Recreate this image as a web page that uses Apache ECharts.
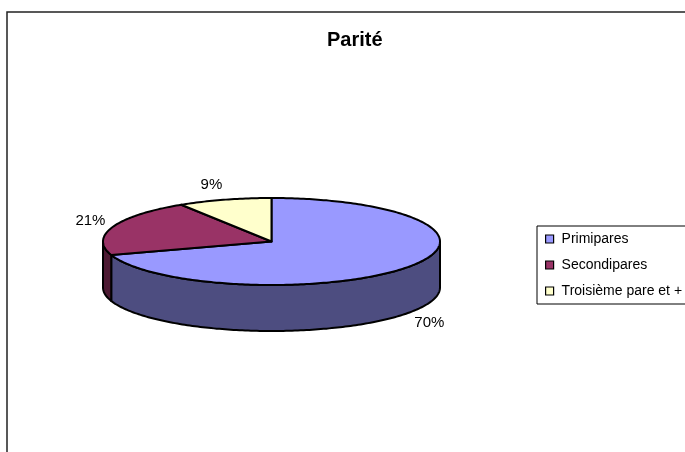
<!DOCTYPE html>
<html>
<head>
<meta charset="utf-8">
<script src="https://cdn.jsdelivr.net/npm/echarts@6/dist/echarts.min.js"></script>
<style>
  html, body { margin: 0; padding: 0; background: #fff; }
  #chart { width: 685px; height: 452px; }
</style>
</head>
<body>
<div id="chart"></div>
<script>
// data
const categories = ['Primipares', 'Secondipares', 'Troisième pare et +'];
const values = [70, 21, 9];
const topColors = ['#9999FF', '#993366', '#FFFFCC'];
const sideColors = ['#4D4D80', '#4D1A33', '#80806A'];

// pseudo-3D pie geometry (pixels)
const CX = 271.5, CY = 241.5, RX = 168.5, RY = 43.5, DEPTH = 46;
const FONT = 'Arial, "Liberation Sans", sans-serif';

const total = values.reduce((a, b) => a + b, 0);

function pt(deg, dy) {
    const r = deg * Math.PI / 180;
    return [CX + RX * Math.sin(r), CY - RY * Math.cos(r) + (dy || 0)];
}

function arc(a, b, dy) {
    const pts = [];
    const n = Math.max(2, Math.ceil(b - a));
    for (let k = 0; k <= n; k++) {
        pts.push(pt(a + (b - a) * k / n, dy));
    }
    return pts;
}

function renderSlice(params, api) {
    const i = params.seriesIndex;
    const before = values.slice(0, i).reduce((a, b) => a + b, 0);
    const a0 = before / total * 360;
    const a1 = (before + values[i]) / total * 360;
    const children = [];

    // front wall (only lower half of the ellipse is visible)
    const s = Math.max(a0, 90), e = Math.min(a1, 270);
    if (e > s) {
        const pts = arc(s, e, 0).concat(arc(s, e, DEPTH).reverse());
        children.push({
            type: 'polygon',
            shape: { points: pts },
            style: { fill: sideColors[i], stroke: '#000', lineWidth: 2, lineJoin: 'round' }
        });
    }

    // top face
    children.push({
        type: 'polygon',
        shape: { points: [[CX, CY]].concat(arc(a0, a1, 0)) },
        style: { fill: topColors[i], stroke: '#000', lineWidth: 2, lineJoin: 'round' }
    });

    // percentage label outside the slice
    const mid = (a0 + a1) / 2 * Math.PI / 180;
    const sn = Math.sin(mid), cs = Math.cos(mid);
    let lx = CX + (RX + 8) * sn;
    let ly = CY - (RY + 16) * cs;
    if (cs < 0) ly += DEPTH;
    const align = sn > 0.1 ? 'left' : (sn < -0.1 ? 'right' : 'center');
    children.push({
        type: 'text',
        style: {
            x: lx, y: ly,
            text: Math.round(values[i] / total * 100) + '%',
            align: align,
            verticalAlign: 'middle',
            fontFamily: FONT,
            fontSize: 15,
            fill: '#000'
        }
    });

    return { type: 'group', children: children };
}

const chart = echarts.init(document.getElementById('chart'));

chart.setOption({
    animation: false,
    backgroundColor: '#fff',
    title: {
        text: 'Parité',
        left: 322,
        top: 25,
        textStyle: {
            fontFamily: FONT,
            fontSize: 20,
            fontWeight: 'bold',
            color: '#000'
        }
    },
    graphic: [
        {
            type: 'rect',
            shape: { x: 7, y: 12, width: 720, height: 480 },
            style: { fill: 'none', stroke: '#222', lineWidth: 1.5 },
            silent: true,
            z: -10
        }
    ],
    legend: {
        orient: 'vertical',
        left: 537,
        top: 226,
        padding: [6, 40, 6, 8],
        itemGap: 12,
        itemWidth: 8,
        itemHeight: 8,
        icon: 'rect',
        borderColor: '#000',
        borderWidth: 1,
        selectedMode: false,
        itemStyle: { borderColor: '#000', borderWidth: 1.2 },
        textStyle: { fontFamily: FONT, fontSize: 14, color: '#000', padding: [0, 0, 0, 3] },
        data: categories
    },
    series: categories.map((name, i) => ({
        type: 'custom',
        name: name,
        coordinateSystem: 'none',
        renderItem: renderSlice,
        itemStyle: { color: topColors[i] },
        data: [values[i]],
        silent: true
    }))
});
</script>
</body>
</html>
